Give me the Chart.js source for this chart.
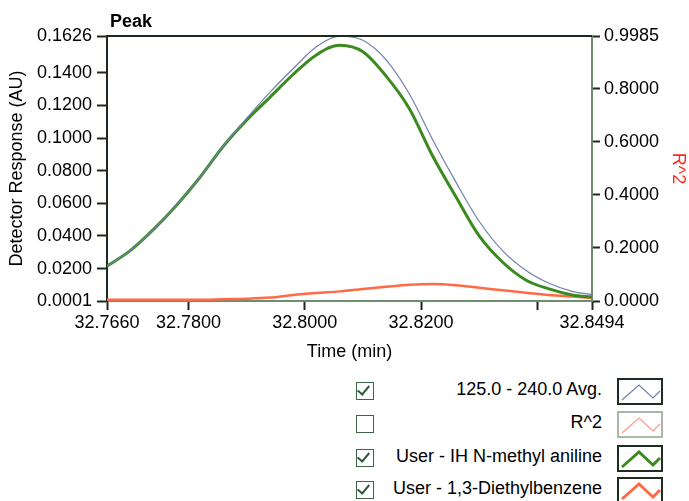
<!DOCTYPE html>
<html>
<head>
<meta charset="utf-8">
<script src="https://cdn.jsdelivr.net/npm/chart.js@4.4.0/dist/chart.umd.min.js"></script>
<style>
  body { margin: 0; background: #fff; font-family: "Liberation Sans", Arial, sans-serif; }
  #wrap { position: relative; width: 689px; height: 501px; overflow: hidden; }
  #myChart { position: absolute; left: 0; top: 0; }
  .row { position: absolute; left: 0; width: 689px; height: 30px; }
  .cb { position: absolute; left: 356px; top: 6px; width: 16px; height: 16px; border: 1.5px solid #3d6648; background: #fff; }
  .cb.on::after { content: ""; position: absolute; left: 3px; top: 0px; width: 5px; height: 10px;
    border-right: 2px solid #2f5a3a; border-bottom: 2px solid #2f5a3a; transform: rotate(40deg); }
  .lbl { position: absolute; right: 87px; top: 3px; font-size: 18px; color: #000; white-space: nowrap; }
  .sw { position: absolute; left: 617px; top: 2px; }
</style>
</head>
<body>
<div id="wrap">
  <canvas id="myChart" width="689" height="365"></canvas>
  <div id="legend"></div>
</div>
<script>
// time (min)
var times = [32.766, 32.770, 32.774, 32.778, 32.782, 32.786, 32.790, 32.794, 32.798, 32.802, 32.806,
             32.810, 32.814, 32.818, 32.822, 32.826, 32.830, 32.834, 32.838, 32.842, 32.846, 32.8494];
// 125.0 - 240.0 Avg.
var avgResp = [0.0215, 0.031, 0.044, 0.059, 0.076, 0.095, 0.112, 0.128, 0.1425, 0.156, 0.1625,
               0.160, 0.148, 0.127, 0.099, 0.073, 0.049, 0.031, 0.019, 0.011, 0.006, 0.004];
// User - IH N-methyl aniline
var anilineResp = [0.0215, 0.031, 0.044, 0.059, 0.076, 0.095, 0.111, 0.125, 0.139, 0.151, 0.157,
                   0.153, 0.138, 0.118, 0.089, 0.064, 0.040, 0.024, 0.013, 0.0075, 0.0038, 0.0025];
// User - 1,3-Diethylbenzene
var diethylResp = [0.0008, 0.0008, 0.0008, 0.0008, 0.0008, 0.0012, 0.0015, 0.0022, 0.0038, 0.0050, 0.0060,
                   0.0075, 0.0088, 0.0100, 0.0105, 0.0098, 0.0082, 0.0067, 0.0052, 0.0038, 0.0028, 0.0020];

var xTickValues = [32.766, 32.78, 32.80, 32.82, 32.84, 32.8494];
var xTickLabels = ['32.7660', '32.7800', '32.8000', '32.8200', '', '32.8494'];
var yTickValues = [0.0001, 0.02, 0.04, 0.06, 0.08, 0.10, 0.12, 0.14, 0.1626];
var yTickLabels = ['0.0001', '0.0200', '0.0400', '0.0600', '0.0800', '0.1000', '0.1200', '0.1400', '0.1626'];
var y2TickValues = [0, 0.2, 0.4, 0.6, 0.8, 0.9985];
var y2TickLabels = ['0.0000', '0.2000', '0.4000', '0.6000', '0.8000', '0.9985'];

var legendItems = [
  { text: '125.0 - 240.0 Avg.', checked: true, color: '#6f80aa', width: 1.2, border: '#1f2f1f' },
  { text: 'R^2', checked: false, color: '#ff9a84', width: 1.2, border: '#a9b8a9' },
  { text: 'User - IH N-methyl aniline', checked: true, color: '#3b8a1d', width: 3, border: '#1f2f1f' },
  { text: 'User - 1,3-Diethylbenzene', checked: true, color: '#ff6a45', width: 3, border: '#1f2f1f' }
];

function pts(ys) { return times.map(function(t, i) { return { x: t, y: ys[i] }; }); }

const FONT = { family: '"Liberation Sans", Arial, sans-serif', size: 18 };

// frame + "Peak" title
const framePlugin = {
  id: 'frame',
  afterDraw(chart) {
    const a = chart.chartArea, ctx = chart.ctx;
    ctx.save();
    ctx.strokeStyle = '#1c2a1c';
    ctx.lineWidth = 2;
    ctx.beginPath();
    ctx.moveTo(a.left, a.top); ctx.lineTo(a.right, a.top);
    ctx.stroke();
    ctx.fillStyle = '#000';
    ctx.font = 'bold 18px "Liberation Sans", Arial, sans-serif';
    ctx.textBaseline = 'alphabetic';
    ctx.fillText('Peak', 110, 27);
    ctx.restore();
  }
};

const config = {
  type: 'line',
  data: {
    datasets: [
      { label: '125.0 - 240.0 Avg.', data: pts(avgResp), borderColor: '#6f80aa', borderWidth: 1.2,
        pointRadius: 0, cubicInterpolationMode: 'monotone', yAxisID: 'y' },
      { label: 'User - IH N-methyl aniline', data: pts(anilineResp), borderColor: '#3b8a1d', borderWidth: 3,
        pointRadius: 0, cubicInterpolationMode: 'monotone', yAxisID: 'y' },
      { label: 'User - 1,3-Diethylbenzene', data: pts(diethylResp), borderColor: '#ff6a45', borderWidth: 2.5,
        pointRadius: 0, cubicInterpolationMode: 'monotone', yAxisID: 'y' }
    ]
  },
  options: {
    responsive: false,
    animation: false,
    layout: { padding: { top: 36, left: 0, right: 0, bottom: 0 } },
    plugins: { legend: { display: false }, tooltip: { enabled: false } },
    scales: {
      x: {
        type: 'linear', min: 32.766, max: 32.8494,
        afterBuildTicks: function(s) { s.ticks = xTickValues.map(function(v) { return { value: v }; }); },
        afterFit: function(s) { s.height = 64; },
        ticks: { autoSkip: false, maxRotation: 0, color: '#000', font: FONT, padding: 2,
          callback: function(v, i) { return xTickLabels[i]; } },
        grid: { drawOnChartArea: false, tickLength: 9, tickColor: '#1c2a1c', tickWidth: 2 },
        border: { color: '#6f8c6f', width: 2 },
        title: { display: true, text: 'Time (min)', color: '#000', font: FONT, padding: 2 }
      },
      y: {
        position: 'left', min: 0.0001, max: 0.1626,
        afterBuildTicks: function(s) { s.ticks = yTickValues.map(function(v) { return { value: v }; }); },
        afterFit: function(s) { s.width = 107; },
        ticks: { autoSkip: false, color: '#000', font: FONT, padding: 5,
          callback: function(v, i) { return yTickLabels[i]; } },
        grid: { drawOnChartArea: false, tickLength: 10, tickColor: '#1c2a1c', tickWidth: 2 },
        border: { color: '#1c2a1c', width: 2 },
        title: { display: true, text: 'Detector Response (AU)', color: '#000', font: FONT, padding: 6 }
      },
      y2: {
        position: 'right', min: 0, max: 0.9985,
        afterBuildTicks: function(s) { s.ticks = y2TickValues.map(function(v) { return { value: v }; }); },
        afterFit: function(s) { s.width = 97; },
        ticks: { autoSkip: false, color: '#000', font: FONT, padding: 4,
          callback: function(v, i) { return y2TickLabels[i]; } },
        grid: { drawOnChartArea: false, tickLength: 8, tickColor: '#1c2a1c', tickWidth: 2 },
        border: { color: '#6f8c6f', width: 2 },
        title: { display: true, text: 'R^2', color: '#ff2a1a', font: FONT, padding: 0 }
      }
    }
  },
  plugins: [framePlugin]
};

const myChart = new Chart(document.getElementById('myChart'), config);

// legend below the chart
var legendEl = document.getElementById('legend');
var rowTops = [376, 409, 443, 475];
legendItems.forEach(function(it, i) {
  var row = document.createElement('div');
  row.className = 'row';
  row.style.top = rowTops[i] + 'px';
  row.innerHTML =
    '<div class="cb' + (it.checked ? ' on' : '') + '"></div>' +
    '<div class="lbl">' + it.text + '</div>' +
    '<svg class="sw" width="46" height="27">' +
      '<rect x="1" y="1" width="44" height="25" fill="#fff" stroke="' + it.border + '" stroke-width="2"/>' +
      '<polyline points="5,22 22,7 36,20 43,13" fill="none" stroke="' + it.color + '" stroke-width="' + it.width + '"/>' +
    '</svg>';
  legendEl.appendChild(row);
});
</script>
</body>
</html>
